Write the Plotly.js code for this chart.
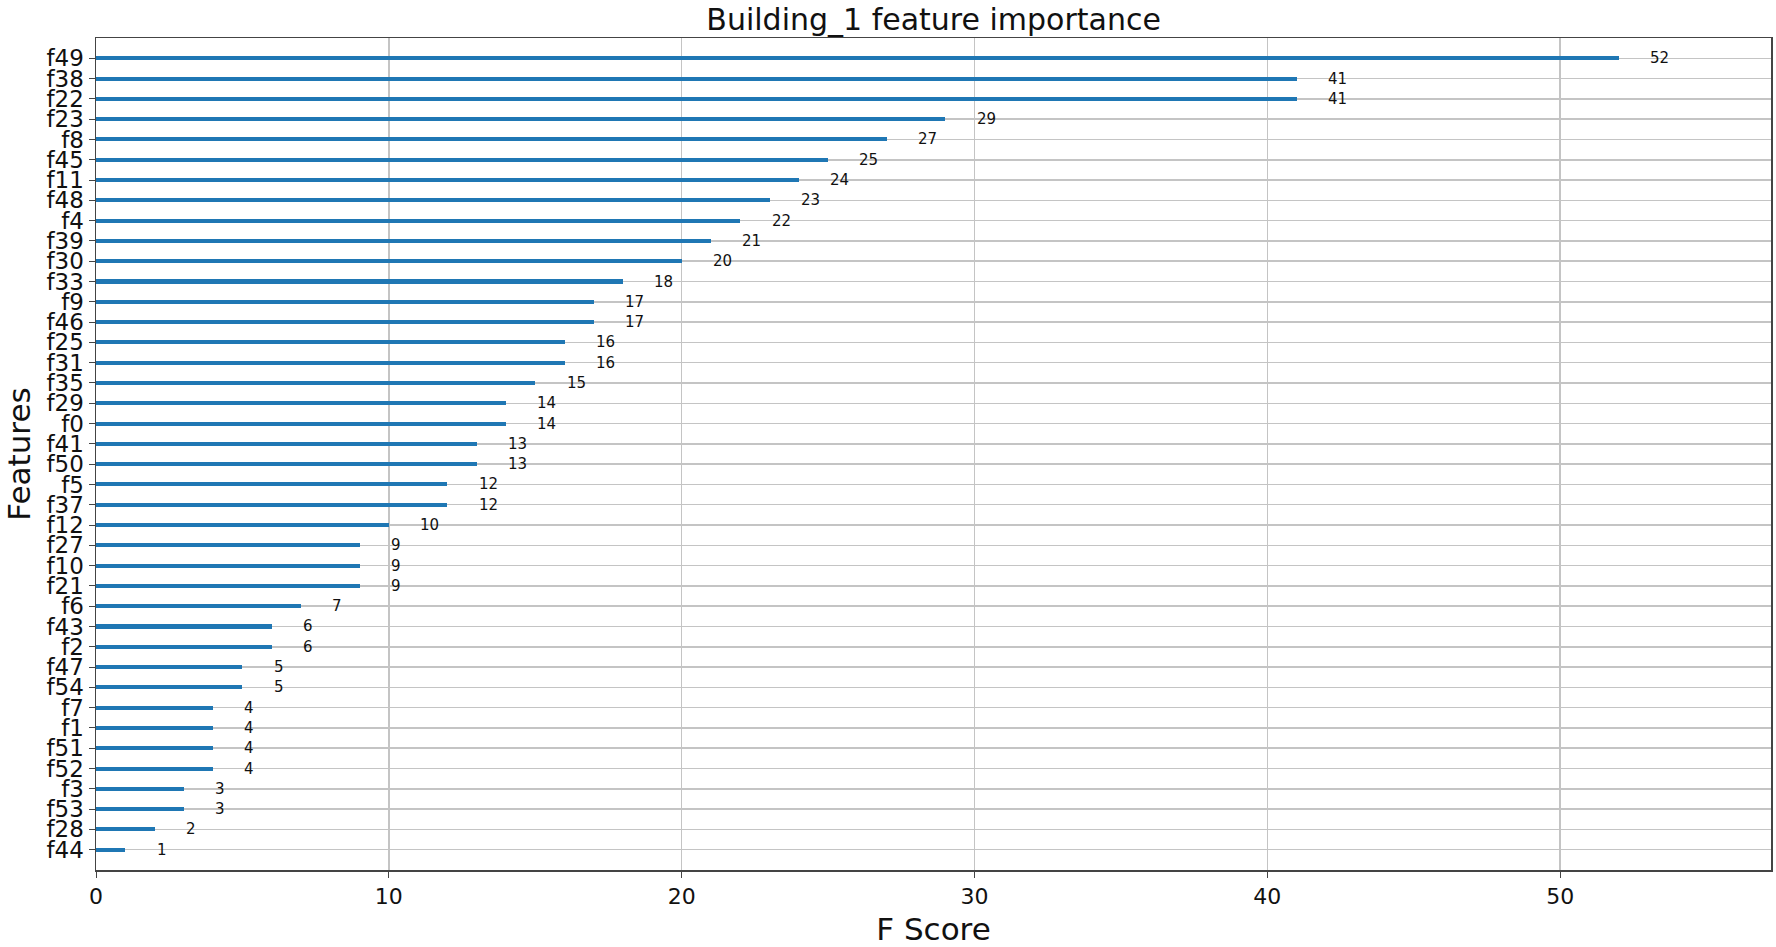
<!DOCTYPE html>
<html>
<head>
<meta charset="utf-8">
<script src="https://cdn.plot.ly/plotly-3.0.1.min.js"></script>
<style>html,body{margin:0;padding:0;background:#fff;}#chart{width:1776px;height:947px;}</style>
</head>
<body>
<div id="chart"></div>
<script>
const features = ["f49","f38","f22","f23","f8","f45","f11","f48","f4","f39",
  "f30","f33","f9","f46","f25","f31","f35","f29","f0","f41",
  "f50","f5","f37","f12","f27","f10","f21","f6","f43","f2",
  "f47","f54","f7","f1","f51","f52","f3","f53","f28","f44"];
const scores = [52,41,41,29,27,25,24,23,22,21,
  20,18,17,17,16,16,15,14,14,13,
  13,12,12,10,9,9,9,7,6,6,
  5,5,4,4,4,4,3,3,2,1];
const xTicks = [0,10,20,30,40,50];

const font = "DejaVu Sans, sans-serif";
const trace = {
  type: "bar", orientation: "h",
  x: scores, y: features,
  width: 0.2,
  marker: {color: "#1f77b4", line: {width: 0}},
  hoverinfo: "x+y"
};
const annotations = scores.map((v, i) => ({
  x: v + 1, y: features[i], xref: "x", yref: "y",
  text: String(v), showarrow: false, xanchor: "left", yanchor: "middle",
  font: {family: font, size: 15, color: "#111"}
}));
const layout = {
  width: 1776, height: 947,
  margin: {l: 96, r: 5, t: 38, b: 77, pad: 0},
  paper_bgcolor: "#fff", plot_bgcolor: "#fff",
  showlegend: false,
  bargap: 0,
  title: {text: "Building_1 feature importance", x: 0.5257, xanchor: "center", y: 0.979, yanchor: "middle",
    font: {family: font, size: 30, color: "#111"}},
  xaxis: {
    range: [0, 57.2], tickvals: xTicks, ticktext: xTicks.map(String),
    showgrid: true, gridcolor: "#c4c4c4", gridwidth: 1.5,
    zeroline: false, showline: true, linecolor: "#444", linewidth: 1.5, mirror: true,
    ticks: "outside", ticklen: 6, tickcolor: "#444",
    tickfont: {family: font, size: 22, color: "#111"},
    title: {text: "F Score", font: {family: font, size: 31, color: "#111"}, standoff: 10}
  },
  yaxis: {
    type: "category", range: [features.length, -1],
    tickmode: "array", tickvals: features, ticktext: features,
    showgrid: true, gridcolor: "#c4c4c4", gridwidth: 1.5,
    zeroline: false, showline: true, linecolor: "#444", linewidth: 1.5, mirror: true,
    ticks: "outside", ticklen: 6, tickcolor: "#444",
    tickfont: {family: font, size: 23, color: "#111"},
    title: {text: "Features", font: {family: font, size: 31, color: "#111"}, standoff: 6}
  },
  annotations: annotations
};
Plotly.newPlot("chart", [trace], layout, {displayModeBar: false, staticPlot: true});
</script>
</body>
</html>
